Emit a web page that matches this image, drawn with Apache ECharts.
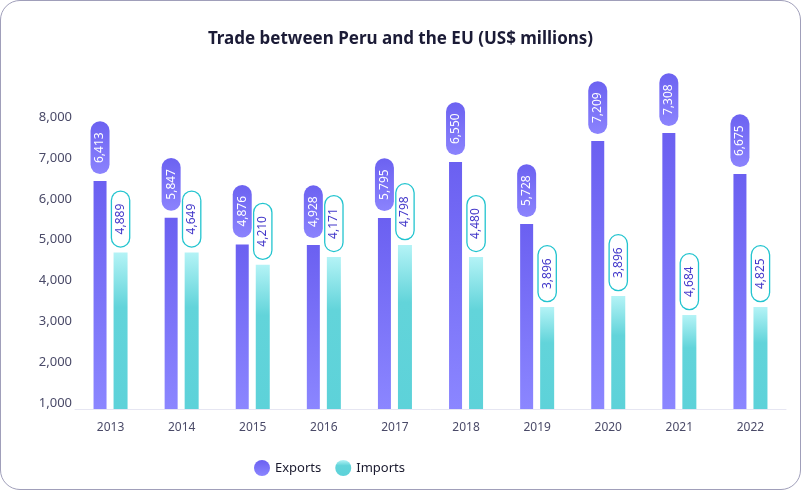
<!DOCTYPE html>
<html>
<head>
<meta charset="utf-8">
<script src="https://cdn.jsdelivr.net/npm/echarts@6/dist/echarts.min.js"></script>
<style>
html,body{margin:0;padding:0;background:#fff;}
#card{position:absolute;left:0;top:0;width:801px;height:490px;box-sizing:border-box;border:1.5px solid #a09fba;border-radius:20px;overflow:hidden;}
#chart{position:absolute;left:0;top:0;width:801px;height:490px;}
</style>
</head>
<body>
<div id="card"></div>
<div id="chart"></div>
<script>
const years = ['2013','2014','2015','2016','2017','2018','2019','2020','2021','2022'];
const exportsBar = [6435, 5538, 4880, 4870, 5531, 6900, 5384, 7413, 7609, 6606];
const importsBar = [4690, 4690, 4389, 4579, 4870, 4579, 3355, 3624, 3159, 3355];
const exportsLabel = [6413, 5847, 4876, 4928, 5795, 6550, 5728, 7209, 7308, 6675];
const importsLabel = [4889, 4649, 4210, 4171, 4798, 4480, 3896, 3896, 4684, 4825];
const yTicks = [1000, 2000, 3000, 4000, 5000, 6000, 7000, 8000];

const FONT = '"Noto Sans", sans-serif';
const fmt = v => v.toLocaleString('en-US');
const chart = echarts.init(document.getElementById('chart'));

const expGrad = new echarts.graphic.LinearGradient(0, 0, 0, 1, [
  {offset: 0, color: '#6b60f1'}, {offset: 1, color: '#8b86ff'}
]);
const impGrad = new echarts.graphic.LinearGradient(0, 0, 0, 1, [
  {offset: 0, color: '#b4f3f6'}, {offset: 0.35, color: '#62d4da'}, {offset: 1, color: '#5dd2d9'}
]);
const pillGrad = new echarts.graphic.LinearGradient(0, 0, 1, 0, [
  {offset: 0, color: '#8b83fd'}, {offset: 1, color: '#6c62f1'}
]);

chart.setOption({
  animation: false,
  title: {
    text: 'Trade between Peru and the EU (US$ millions)',
    left: 'center', top: 26,
    textStyle: {fontFamily: FONT, fontSize: 17, fontWeight: 'bold', color: '#1b1b36'}
  },
  legend: {
    left: 249, top: 455,
    icon: 'circle', itemWidth: 16, itemHeight: 16, itemGap: 14,
    textStyle: {fontFamily: FONT, fontSize: 13, color: '#1a1a2e'},
    data: ['Exports', 'Imports']
  },
  grid: {left: 75, right: 15, top: 117, bottom: 81, containLabel: false},
  xAxis: {
    type: 'category', data: years,
    axisLine: {lineStyle: {color: '#e6e6f2', width: 1}},
    axisTick: {show: false},
    axisLabel: {fontFamily: FONT, fontSize: 12, color: '#4a4a68', margin: 13}
  },
  yAxis: {
    type: 'value', min: 861, max: 8000,
    axisLine: {show: false}, axisTick: {show: false}, splitLine: {show: false},
    axisLabel: {
      customValues: yTicks,
      fontFamily: FONT, fontSize: 13, color: '#4a4a68', margin: 3,
      formatter: v => fmt(v)
    }
  },
  series: [
    {
      name: 'Exports', type: 'bar', data: exportsBar,
      barWidth: 13, barGap: '54%',
      itemStyle: {color: expGrad},
      label: {
        show: true, position: 'top', rotate: 90, align: 'left', verticalAlign: 'middle',
        distance: 7,
        formatter: p => fmt(exportsLabel[p.dataIndex]),
        fontFamily: FONT, fontSize: 12, color: '#ffffff', lineHeight: 13,
        backgroundColor: pillGrad, borderRadius: 10, padding: [3, 11, 3, 11]
      }
    },
    {
      name: 'Imports', type: 'bar', data: importsBar,
      barWidth: 14,
      itemStyle: {color: impGrad},
      label: {
        show: true, position: 'top', rotate: 90, align: 'left', verticalAlign: 'middle',
        distance: 6,
        formatter: p => fmt(importsLabel[p.dataIndex]),
        fontFamily: FONT, fontSize: 12, color: '#4338ca', lineHeight: 13,
        backgroundColor: '#ffffff', borderColor: '#22c4cf', borderWidth: 1.3,
        borderRadius: 10, padding: [2, 12, 2, 12]
      }
    }
  ]
});
</script>
</body>
</html>
